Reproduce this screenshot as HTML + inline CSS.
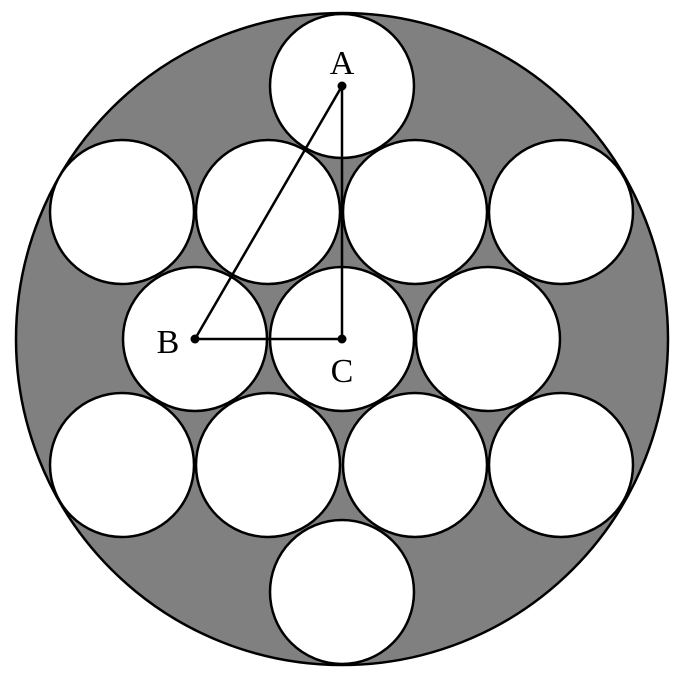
<!DOCTYPE html>
<html><head><meta charset="utf-8"><style>html,body{margin:0;padding:0;background:#fff}</style></head>
<body>
<svg width="680" height="676" viewBox="0 0 680 676" xmlns="http://www.w3.org/2000/svg">
<circle cx="342" cy="339" r="326" fill="#808080" stroke="#000" stroke-width="2.5"/>
<g fill="#fff" stroke="#000" stroke-width="2.5">
<circle cx="342" cy="86" r="72"/>
<circle cx="122" cy="212" r="72"/>
<circle cx="268" cy="212" r="72"/>
<circle cx="415" cy="212" r="72"/>
<circle cx="561" cy="212" r="72"/>
<circle cx="195" cy="339" r="72"/>
<circle cx="342" cy="339" r="72"/>
<circle cx="488" cy="339" r="72"/>
<circle cx="122" cy="465" r="72"/>
<circle cx="268" cy="465" r="72"/>
<circle cx="415" cy="465" r="72"/>
<circle cx="561" cy="465" r="72"/>
<circle cx="342" cy="592" r="72"/>
</g>
<g stroke="#000" stroke-width="2.5" fill="none">
<line x1="342" y1="86" x2="195" y2="339"/>
<line x1="342" y1="86" x2="342" y2="339"/>
<line x1="195" y1="339" x2="342" y2="339"/>
</g>
<g fill="#000">
<circle cx="342" cy="86" r="4.5"/>
<circle cx="195" cy="339" r="4.5"/>
<circle cx="342" cy="339" r="4.5"/>
</g>
<g font-family="Liberation Serif, serif" font-size="34" fill="#000" text-anchor="middle">
<text x="342" y="74">A</text>
<text x="168" y="353">B</text>
<text x="342" y="382">C</text>
</g>
</svg>
</body></html>
